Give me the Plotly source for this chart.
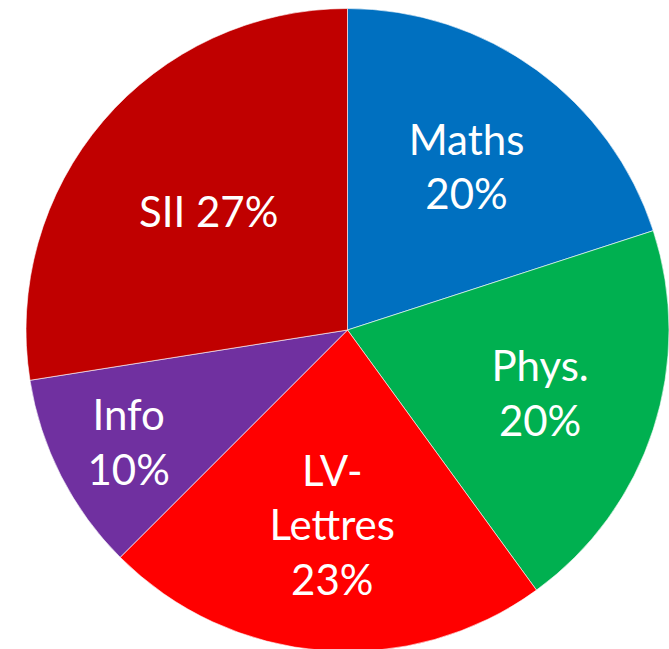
import plotly.graph_objects as go

# Data (clockwise from 12 o'clock)
labels = ["Maths", "Phys.", "LV-Lettres", "Info", "SII"]
values = [20, 20, 22.5, 10, 27.5]
label_lines = ["Maths<br>", "Phys.<br>", "LV-<br>Lettres<br>", "Info<br>", "SII "]
pct_labels = ["20%", "20%", "23%", "10%", "27%"]
colors = ["#0070C0", "#00B050", "#FF0000", "#7030A0", "#C00000"]

texts = [a + b for a, b in zip(label_lines, pct_labels)]

fig = go.Figure(go.Pie(
    labels=labels,
    values=values,
    text=texts,
    textinfo="text",
    textposition="inside",
    insidetextorientation="horizontal",
    sort=False,
    direction="clockwise",
    rotation=0,
    marker=dict(colors=colors, line=dict(color="white", width=0.6)),
    textfont=dict(family="Lato, Carlito, sans-serif", size=42, color="white"),
    hoverinfo="label+text",
    showlegend=False,
    domain=dict(x=[26 / 669, 1], y=[0, 1]),
))

fig.update_layout(
    width=669,
    height=660,
    margin=dict(l=0, r=0, t=0, b=0),
    paper_bgcolor="white",
    plot_bgcolor="white",
    showlegend=False,
    uniformtext=dict(minsize=42, mode="show"),
)

fig.write_html(
    "out.html",
    config={"displayModeBar": False},
    post_script="document.body.style.margin='0';document.body.style.overflow='hidden';",
)
